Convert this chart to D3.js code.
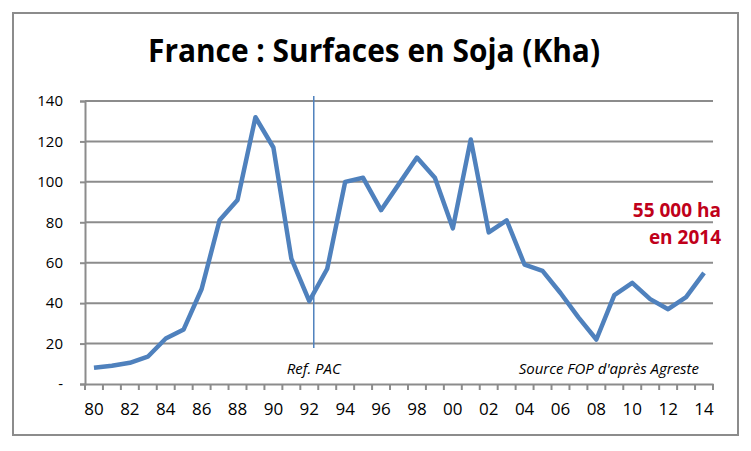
<!DOCTYPE html>
<html>
<head>
<meta charset="utf-8">
<script src="https://cdn.jsdelivr.net/npm/d3@7"></script>
<style>
  body { margin: 0; background: #fff; }
  text { font-family: "Open Sans", "Liberation Sans", sans-serif; }
</style>
</head>
<body>
<div class="canvas"></div>
<script>
// data
const years = d3.range(1980, 2015)
const yearLabels = ['80', '82', '84', '86', '88', '90', '92', '94', '96', '98',
  '00', '02', '04', '06', '08', '10', '12', '14']
const surfaces = [8, 9, 10.5, 13.5, 22.5, 27, 47, 81, 91, 132,
  117, 62, 41, 57, 100, 102, 86, 99, 112, 102,
  77, 121, 75, 81, 59, 56, 45, 33, 22, 44,
  50, 42, 37, 43, 55]
const yTicks = [0, 20, 40, 60, 80, 100, 120, 140]

const svg = d3.select('.canvas')
  .append('svg')
  .attr('width', 751)
  .attr('height', 451)

// outer frame
svg.append('rect')
  .attr('x', 13).attr('y', 13)
  .attr('width', 725).attr('height', 422)
  .attr('fill', 'none')
  .attr('stroke', '#8c8c8c')
  .attr('stroke-width', 2)

svg.append('text')
  .attr('x', 374).attr('y', 62)
  .attr('text-anchor', 'middle')
  .style('font-size', '32px')
  .style('font-weight', 'bold')
  .attr('textLength', 452)
  .attr('lengthAdjust', 'spacingAndGlyphs')
  .text('France : Surfaces en Soja (Kha)')

const x = d3.scaleBand()
  .domain(years)
  .range([85, 713])

const y = d3.scaleLinear()
  .domain([0, 140])
  .range([384, 101])

const graph = svg.append('g')

// gridlines
graph.selectAll('.grid')
  .data(yTicks.slice(1))
  .enter()
  .append('line')
  .attr('x1', 85).attr('x2', 713)
  .attr('y1', d => y(d)).attr('y2', d => y(d))
  .attr('stroke', '#8c8c8c')
  .attr('stroke-width', 2)

// y axis
const yAxis = d3.axisLeft(y)
  .tickValues(yTicks)
  .tickSize(5)
  .tickPadding(17)
  .tickFormat(d => d === 0 ? '-' : d)

const gy = svg.append('g')
  .attr('transform', 'translate(85, 0)')
  .call(yAxis)
gy.select('.domain').attr('stroke', '#8c8c8c').attr('stroke-width', 2)
gy.selectAll('.tick line').attr('stroke', '#8c8c8c').attr('stroke-width', 2)
gy.selectAll('.tick text')
  .style('font-size', '15px')
  .attr('fill', '#000')

// x axis
const xAxis = d3.axisBottom(x)
  .tickValues(years.filter(d => d % 2 === 0))
  .tickSize(0)
  .tickPadding(19)
  .tickFormat(d => yearLabels[(d - 1980) / 2])

const gx = svg.append('g')
  .attr('transform', 'translate(0, 384)')
  .call(xAxis)
gx.select('.domain').attr('stroke', '#8c8c8c').attr('stroke-width', 2)
gx.selectAll('.tick text')
  .style('font-size', '17px')
  .attr('fill', '#000')

// small ticks between years
gx.selectAll('.bound')
  .data(years.concat([2015]))
  .enter()
  .append('line')
  .attr('x1', d => d === 2015 ? 713 : x(d))
  .attr('x2', d => d === 2015 ? 713 : x(d))
  .attr('y1', 0).attr('y2', 6)
  .attr('stroke', '#8c8c8c')
  .attr('stroke-width', 2)

// Ref. PAC marker
const pacX = x(1992) + x.bandwidth() * 0.75
svg.append('line')
  .attr('x1', pacX).attr('x2', pacX)
  .attr('y1', 96).attr('y2', 348)
  .attr('stroke', '#4f81bd')
  .attr('stroke-width', 1.5)

svg.append('text')
  .attr('x', pacX).attr('y', 374)
  .attr('text-anchor', 'middle')
  .style('font-size', '15px')
  .style('font-style', 'italic')
  .text('Ref. PAC')

svg.append('text')
  .attr('x', 699).attr('y', 374)
  .attr('text-anchor', 'end')
  .style('font-size', '15px')
  .style('font-style', 'italic')
  .text("Source FOP d'après Agreste")

// series line
const line = d3.line()
  .x((d, i) => x(years[i]) + x.bandwidth() / 2)
  .y(d => y(d))

graph.append('path')
  .datum(surfaces)
  .attr('d', line)
  .attr('fill', 'none')
  .attr('stroke', '#4f81bd')
  .attr('stroke-width', 4.5)
  .attr('stroke-linejoin', 'round')

// annotation
const note = svg.append('text')
  .attr('text-anchor', 'end')
  .attr('fill', '#c0001a')
  .style('font-size', '19px')
  .style('font-weight', 'bold')
note.append('tspan').attr('x', 721).attr('y', 217).text('55 000 ha')
note.append('tspan').attr('x', 721).attr('y', 244).text('en 2014')
</script>
</body>
</html>
